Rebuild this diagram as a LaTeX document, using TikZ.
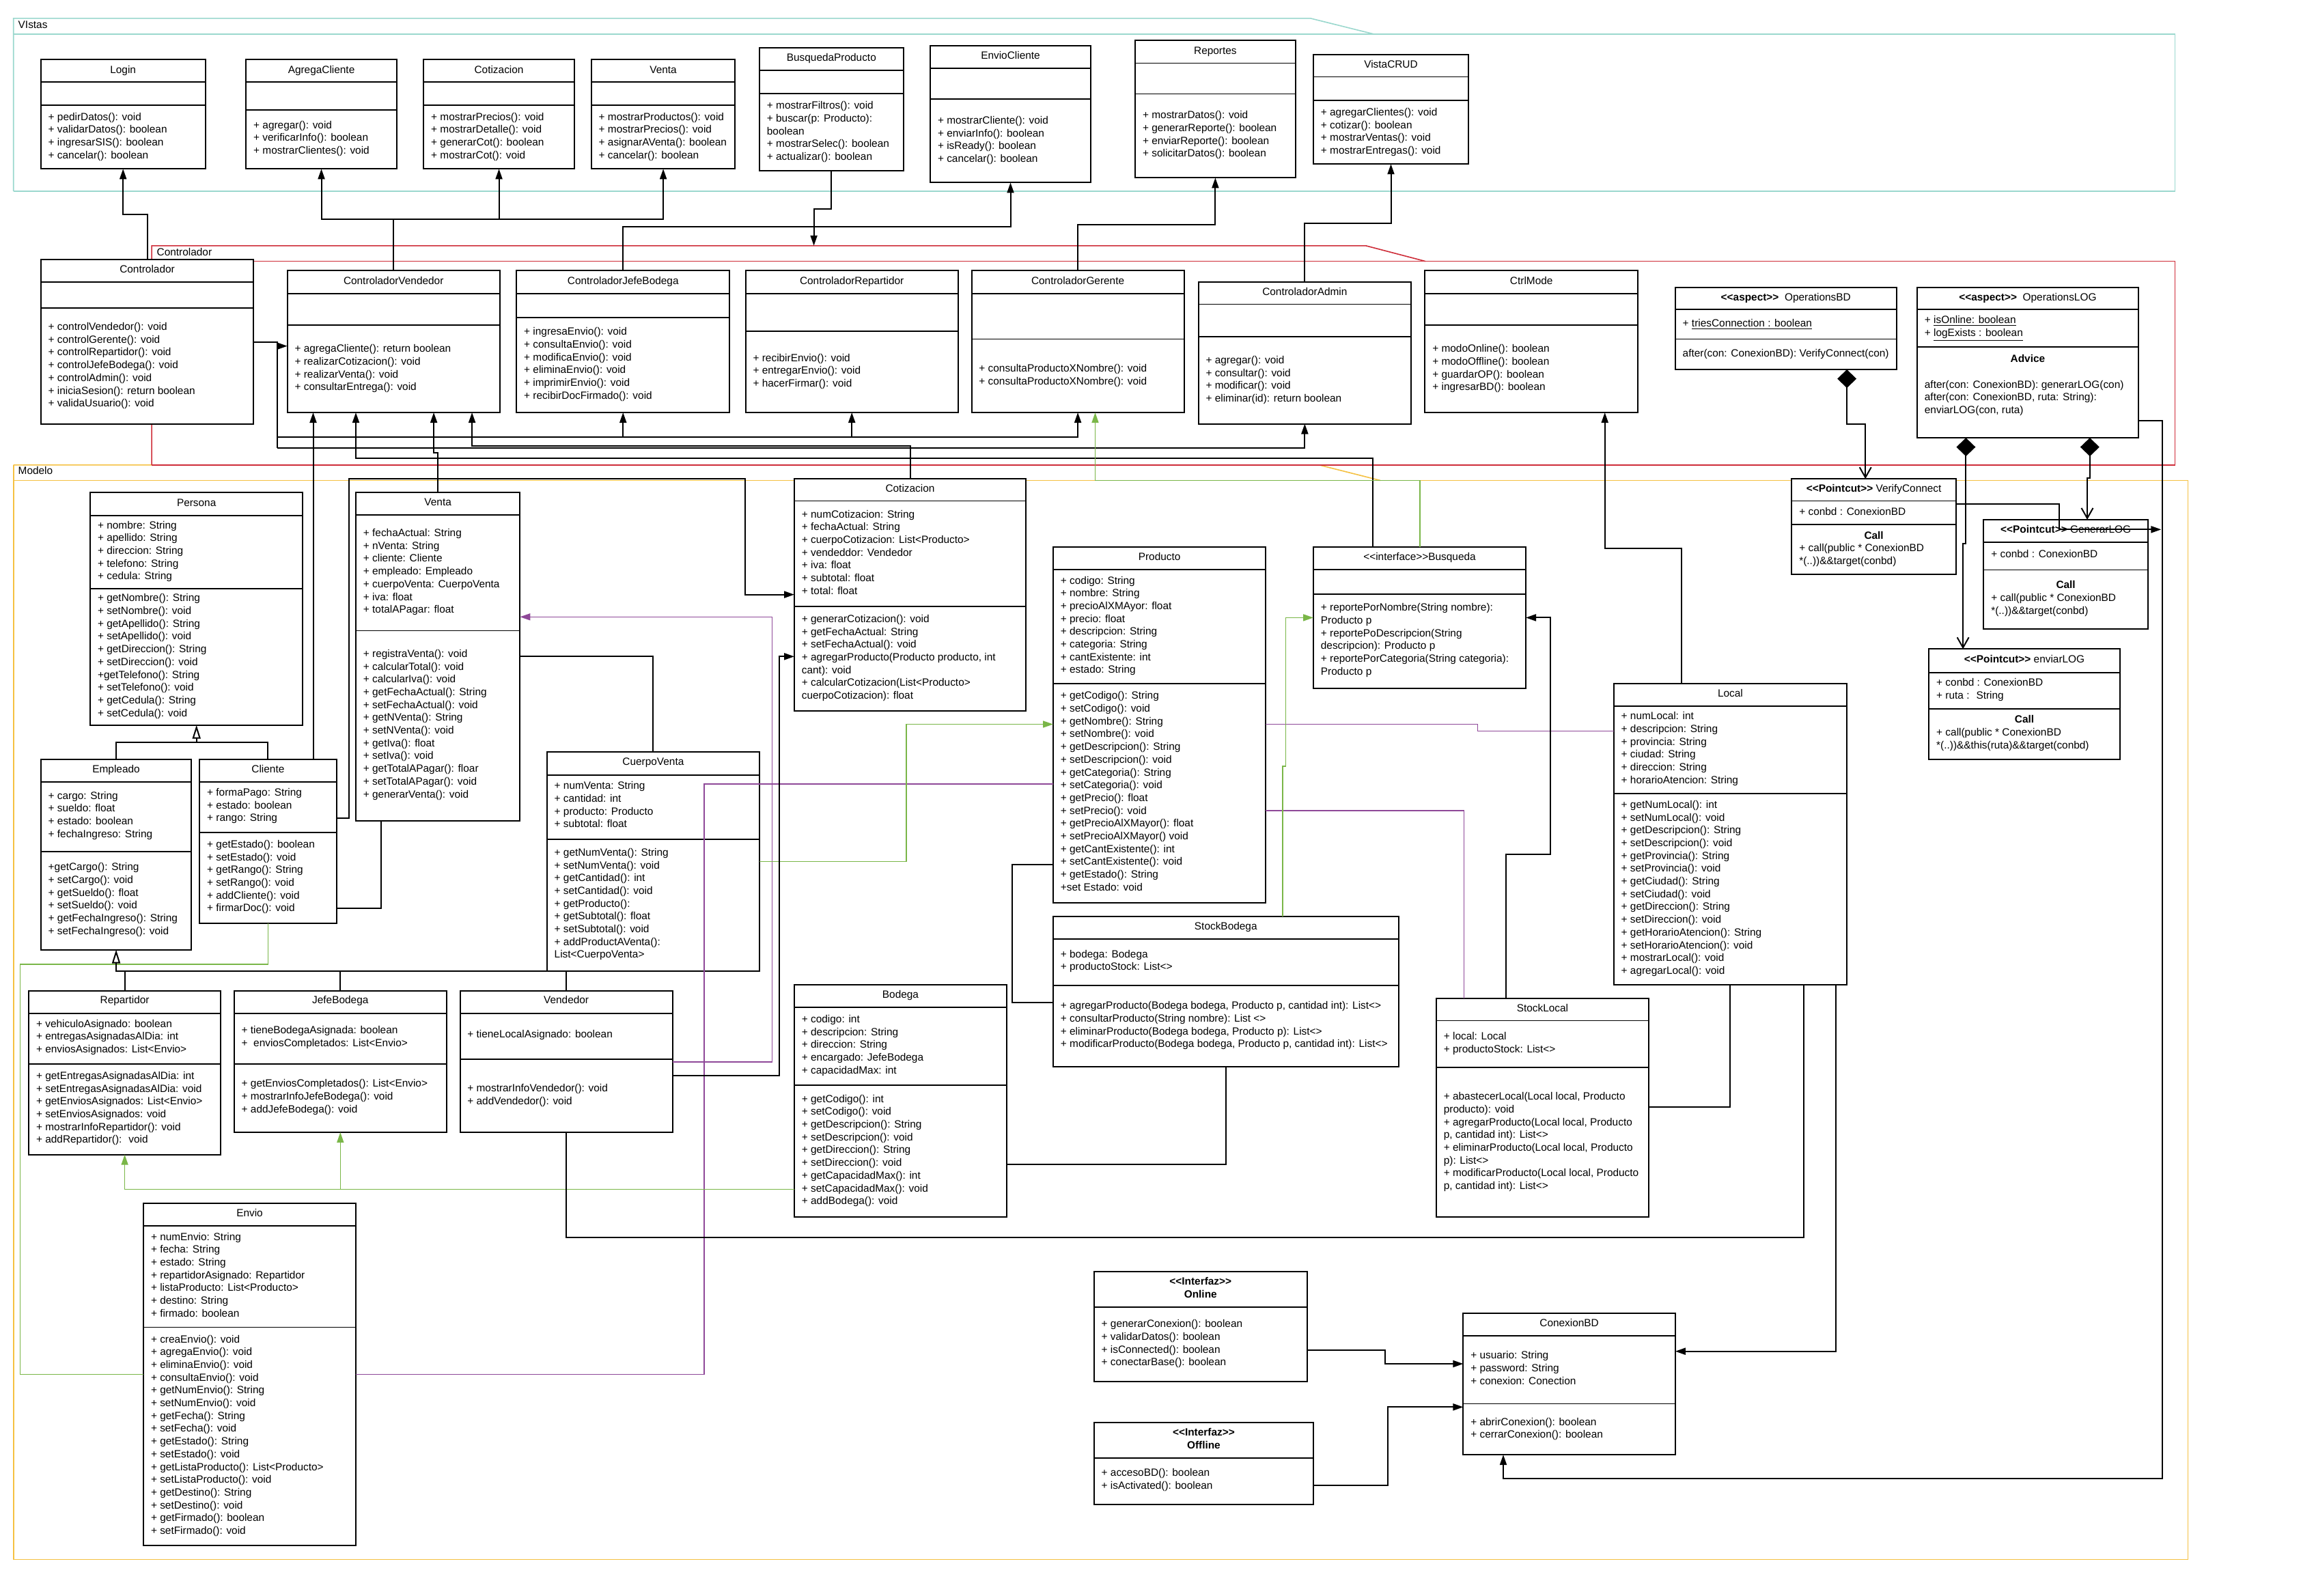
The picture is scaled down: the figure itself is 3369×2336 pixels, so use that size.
\documentclass[tikz,border=0pt]{standalone}
\usepackage{fontspec}
\setmainfont{Liberation Sans}
\usetikzlibrary{arrows.meta,fit}

\definecolor{pkgteal}{RGB}{155,216,206}
\definecolor{pkgred}{RGB}{206,44,56}
\definecolor{pkgorange}{RGB}{245,193,66}
\definecolor{lnkgreen}{RGB}{122,182,72}
\definecolor{lnkpurple}{RGB}{142,72,152}

\newcommand\stereo[1]{<\kern0pt<#1>\kern0pt>}

% class box: name, x1, y1, x2, y2, compartment separators
\newcommand\umlbox[6]{%
  \node[clsbox, fit={(#2,#3) (#4,#5)}] (#1) {};%
  \foreach \yy in {#6} {\draw[sepline] (#2,\yy) -- (#4,\yy);}%
}
% centred line(s): name, x1, x2, y of first line, text
\newcommand\umltitle[5]{%
  \node[ttl] (#1) at ({(#2+#3)/2},{#4-8.4}) {\strut #5};%
}
% left aligned lines: name, box left, y of first line, text
\newcommand\umltext[4]{%
  \node[txt] (#1) at ({#2+10.5},{#3-8.4}) {\strut #4};%
}

\tikzset{
  clsbox/.style={draw=black, line width=1pt, fill=white, inner sep=0pt, outer sep=0pt},
  sepline/.style={black, line width=0.9pt},
  txt/.style={font=\fontsize{7.7}{9.35}\selectfont, align=left, inner sep=0pt, anchor=north west},
  ttl/.style={font=\fontsize{7.7}{9.35}\selectfont, align=center, inner sep=0pt, anchor=north},
  lnk/.style={black, line width=1pt},
  arr/.style={lnk, -{Triangle[length=7.5pt,width=5pt]}},
  gen/.style={lnk, -{Triangle[open,length=10pt,width=6pt]}},
  aggr/.style={lnk, {Diamond[length=13.5pt,width=14pt]}-{Straight Barb[length=7.5pt,width=8.5pt]}},
  grn/.style={lnkgreen, line width=0.8pt},
  grnarr/.style={grn, -{Triangle[length=7.5pt,width=5pt]}},
  pur/.style={lnkpurple, line width=0.7pt},
  purarr/.style={pur, -{Triangle[length=7.5pt,width=5pt]}},
  pkg/.style={line width=0.8pt},
}

\begin{document}
\begin{tikzpicture}[x=0.5pt,y=-0.5pt]
\useasboundingbox (0,0) rectangle (3369,2336);
\fill[white] (0,0) rectangle (3369,2336);

% ================= packages
\draw[pkg, pkgorange] (19.7,680.8) -- (1931.2,680.8) -- (2021,703.5);
\draw[pkg, pkgorange] (19.7,680.8) -- (19.7,2283.5) -- (3203.3,2283.5) -- (3203.3,703.5) -- (19.7,703.5);
\node[txt] (lblModelo) at (26.3,{689.8-8.4}) {\strut Modelo};

\draw[pkg, pkgred] (222.1,680.8) -- (222.1,359.8) -- (1999.8,359.8) -- (2087,382.6);
\draw[pkg, pkgred] (222.1,382.6) -- (3184.4,382.6) -- (3184.4,680.8) -- (222.1,680.8);
\node[txt] (lblCtrl) at (229.3,{369.6-8.4}) {\strut Controlador};

\draw[pkg, pkgteal] (19.7,280) -- (19.7,26.8) -- (1918.6,26.8) -- (2011.8,50);
\draw[pkg, pkgteal] (19.7,50) -- (3184.4,50) -- (3184.4,280) -- (19.7,280);
\node[txt] (lblVistas) at (26.3,{36.6-8.4}) {\strut VIstas};

% ================= views
\umlbox{login}{59.8}{86.6}{300.6}{247.3}{119.6,154}
\umltitle{login-n}{59.8}{300.6}{102.5}{Login}
\umltext{login-m}{59.8}{171}{+ pedirDatos(): void\\+ validarDatos(): boolean\\+ ingresarSIS(): boolean\\+ cancelar(): boolean}

\umlbox{agregaCli}{360.3}{86.6}{580.8}{247.3}{119.6,160.7}
\umltitle{agregaCli-n}{360.3}{580.8}{102.5}{AgregaCliente}
\umltext{agregaCli-m}{360.3}{183}{+ agregar(): void\\+ verificarInfo(): boolean\\+ mostrarClientes(): void}

\umlbox{vCotiz}{620.3}{86.6}{840.8}{247.3}{119.6,154}
\umltitle{vCotiz-n}{620.3}{840.8}{102.5}{Cotizacion}
\umltext{vCotiz-m}{620.3}{171}{+ mostrarPrecios(): void\\+ mostrarDetalle(): void\\+ generarCot(): boolean\\+ mostrarCot(): void}

\umlbox{vVenta}{865.8}{86.6}{1076.4}{247.3}{119.6,154}
\umltitle{vVenta-n}{865.8}{1076.4}{102.5}{Venta}
\umltext{vVenta-m}{865.8}{171}{+ mostrarProductos(): void\\+ mostrarPrecios(): void\\+ asignarAVenta(): boolean\\+ cancelar(): boolean}

\umlbox{busqProd}{1112}{69.6}{1322.7}{250}{102.7,136.6}
\umltitle{busqProd-n}{1112}{1322.7}{84.4}{BusquedaProducto}
\umltext{busqProd-m}{1112}{154.5}{+ mostrarFiltros(): void\\+ buscar(p: Producto):\\boolean\\+ mostrarSelec(): boolean\\+ actualizar(): boolean}

\umlbox{envioCli}{1362.1}{67}{1596.9}{267.4}{99.6,145}
\umltitle{envioCli-n}{1362.1}{1596.9}{81.7}{EnvioCliente}
\umltext{envioCli-m}{1362.1}{176.3}{+ mostrarCliente(): void\\+ enviarInfo(): boolean\\+ isReady(): boolean\\+ cancelar(): boolean}

\umlbox{reportes}{1662.2}{59.4}{1896.6}{260.3}{92.4,137.5}
\umltitle{reportes-n}{1662.2}{1896.6}{74.6}{Reportes}
\umltext{reportes-m}{1662.2}{168.7}{+ mostrarDatos(): void\\+ generarReporte(): boolean\\+ enviarReporte(): boolean\\+ solicitarDatos(): boolean}

\umlbox{vistaCrud}{1923}{80}{2150}{240.2}{112.5,146.9}
\umltitle{vistaCrud-n}{1923}{2150}{94.2}{VistaCRUD}
\umltext{vistaCrud-m}{1923}{164.3}{+ agregarClientes(): void\\+ cotizar(): boolean\\+ mostrarVentas(): void\\+ mostrarEntregas(): void}

% ================= controllers
\umlbox{controlador}{59.8}{380.4}{371.3}{620.5}{413,450.9}
\umltitle{controlador-n}{59.8}{371.3}{394.6}{Controlador}
\umltext{controlador-m}{59.8}{478.4}{+ controlVendedor(): void\\+ controlGerente(): void\\+ controlRepartidor(): void\\+ controlJefeBodega(): void\\+ controlAdmin(): void\\+ iniciaSesion(): return boolean\\+ validaUsuario(): void}

\umlbox{ctrlVend}{420.7}{396.4}{731.7}{604}{429.9,476.3}
\umltitle{ctrlVend-n}{420.7}{731.7}{411.2}{ControladorVendedor}
\umltext{ctrlVend-m}{420.7}{510.7}{+ agregaCliente(): return boolean\\+ realizarCotizacion(): void\\+ realizarVenta(): void\\+ consultarEntrega(): void}

\umlbox{ctrlJefe}{756.3}{396.4}{1068.2}{604}{429.9,464.7}
\umltitle{ctrlJefe-n}{756.3}{1068.2}{411.2}{ControladorJefeBodega}
\umltext{ctrlJefe-m}{756.3}{485.7}{+ ingresaEnvio(): void\\+ consultaEnvio(): void\\+ modificaEnvio(): void\\+ eliminaEnvio(): void\\+ imprimirEnvio(): void\\+ recibirDocFirmado(): void}

\umlbox{ctrlRep}{1091.7}{396.4}{1402.7}{604}{429.9,484.8}
\umltitle{ctrlRep-n}{1091.7}{1402.7}{411.2}{ControladorRepartidor}
\umltext{ctrlRep-m}{1091.7}{524.1}{+ recibirEnvio(): void\\+ entregarEnvio(): void\\+ hacerFirmar(): void}

\umlbox{ctrlGer}{1422.5}{396.4}{1733.7}{604}{429.9,496.4}
\umltitle{ctrlGer-n}{1422.5}{1733.7}{411.2}{ControladorGerente}
\umltext{ctrlGer-m}{1422.5}{539.7}{+ consultaProductoXNombre(): void\\+ consultaProductoXNombre(): void}

\umlbox{ctrlAdmin}{1754.6}{413.4}{2066.1}{620.5}{445.5,492.9}
\umltitle{ctrlAdmin-n}{1754.6}{2066.1}{427.7}{ControladorAdmin}
\umltext{ctrlAdmin-m}{1754.6}{527.2}{+ agregar(): void\\+ consultar(): void\\+ modificar(): void\\+ eliminar(id): return boolean}

\umlbox{ctrlMode}{2086.4}{396.4}{2398}{604}{429.9,476.3}
\umltitle{ctrlMode-n}{2086.4}{2398}{411.2}{CtrlMode}
\umltext{ctrlMode-m}{2086.4}{510.7}{+ modoOnline(): boolean\\+ modoOffline(): boolean\\+ guardarOP(): boolean\\+ ingresarBD(): boolean}

\umlbox{opBD}{2452.8}{420.5}{2776.6}{541.1}{452.7,496.4}
\umltitle{opBD-n}{2452.8}{2776.6}{435.3}{\textbf{\stereo{aspect}}~ OperationsBD}
\umltext{opBD-a}{2452.8}{473.2}{+ \underline{triesConnection : boolean}}
\umltext{opBD-m}{2452.8}{517}{after(con: ConexionBD): VerifyConnect(con)}

\umlbox{opLOG}{2807}{420.5}{3130.8}{641.1}{452.7,507.6}
\umltitle{opLOG-n}{2807}{3130.8}{435.3}{\textbf{\stereo{aspect}}~ OperationsLOG}
\umltext{opLOG-a}{2807}{468.8}{+ \underline{isOnline: boolean}\\+ \underline{logExists : boolean}}
\umltitle{opLOG-adv}{2807}{3130.8}{525.4}{\textbf{Advice}}
\umltext{opLOG-m}{2807}{563}{after(con: ConexionBD): generarLOG(con)\\after(con: ConexionBD, ruta: String):\\enviarLOG(con, ruta)}

% ================= model
\umlbox{persona}{132.2}{721.3}{443.2}{1061.7}{754.6,862}
\umltitle{persona-n}{132.2}{443.2}{736.3}{Persona}
\umltext{persona-a}{132.2}{769}{+ nombre: String\\+ apellido: String\\+ direccion: String\\+ telefono: String\\+ cedula: String}
\umltext{persona-m}{132.2}{875.7}{+ getNombre(): String\\+ setNombre(): void\\+ getApellido(): String\\+ setApellido(): void\\+ getDireccion(): String\\+ setDireccion(): void\\+getTelefono(): String\\+ setTelefono(): void\\+ getCedula(): String\\+ setCedula(): void}

\umlbox{empleado}{59.8}{1111.6}{280.3}{1390.6}{1144.9,1247.1}
\umltitle{empleado-n}{59.8}{280.3}{1126}{Empleado}
\umltext{empleado-a}{59.8}{1165}{+ cargo: String\\+ sueldo: float\\+ estado: boolean\\+ fechaIngreso: String}
\umltext{empleado-m}{59.8}{1269.5}{+getCargo(): String\\+ setCargo(): void\\+ getSueldo(): float\\+ setSueldo(): void\\+ getFechaIngreso(): String\\+ setFechaIngreso(): void}

\umlbox{cliente}{292.3}{1111.6}{492.5}{1351.6}{1144.9,1219}
\umltitle{cliente-n}{292.3}{492.5}{1126}{Cliente}
\umltext{cliente-a}{292.3}{1160.4}{+ formaPago: String\\+ estado: boolean\\+ rango: String}
\umltext{cliente-m}{292.3}{1236.2}{+ getEstado(): boolean\\+ setEstado(): void\\+ getRango(): String\\+ setRango(): void\\+ addCliente(): void\\+ firmarDoc(): void}

\umlbox{venta}{521}{721.3}{761.3}{1202.3}{754,923.4}
\umltitle{venta-n}{521}{761.3}{735.1}{Venta}
\umltext{venta-a}{521}{780.4}{+ fechaActual: String\\+ nVenta: String\\+ cliente: Cliente\\+ empleado: Empleado\\+ cuerpoVenta: CuerpoVenta\\+ iva: float\\+ totalAPagar: float}
\umltext{venta-m}{521}{957.2}{+ registraVenta(): void\\+ calcularTotal(): void\\+ calcularIva(): void\\+ getFechaActual(): String\\+ setFechaActual(): void\\+ getNVenta(): String\\+ setNVenta(): void\\+ getIva(): float\\+ setIva(): void\\+ getTotalAPagar(): floar\\+ setTotalAPagar(): void\\+ generarVenta(): void}

\umlbox{cuerpoVenta}{800.8}{1101.3}{1112}{1421.6}{1134.6,1228.7}
\umltitle{cuerpoVenta-n}{800.8}{1112}{1115.7}{CuerpoVenta}
\umltext{cuerpoVenta-a}{800.8}{1150.7}{+ numVenta: String\\+ cantidad: int\\+ producto: Producto\\+ subtotal: float}
\umltext{cuerpoVenta-m}{800.8}{1248.2}{+ getNumVenta(): String\\+ setNumVenta(): void\\+ getCantidad(): int\\+ setCantidad(): void\\+ getProducto():\\+ getSubtotal(): float\\+ setSubtotal(): void\\+ addProductAVenta():\\List<CuerpoVenta>}

\umlbox{cotiz}{1163}{700.7}{1502}{1040.5}{733.4,887.8}
\umltitle{cotiz-n}{1163}{1502}{715}{Cotizacion}
\umltext{cotiz-a}{1163}{752.9}{+ numCotizacion: String\\+ fechaActual: String\\+ cuerpoCotizacion: List<Producto>\\+ vendeddor: Vendedor\\+ iva: float\\+ subtotal: float\\+ total: float}
\umltext{cotiz-m}{1163}{906.2}{+ generarCotizacion(): void\\+ getFechaActual: String\\+ setFechaActual(): void\\+ agregarProducto(Producto producto, int\\cant): void\\+ calcularCotizacion(List<Producto>\\cuerpoCotizacion): float}

\umlbox{producto}{1542}{801.1}{1853.3}{1321.7}{833.8,1000.9}
\umltitle{producto-n}{1542}{1853.3}{815.5}{Producto}
\umltext{producto-a}{1542}{849.9}{+ codigo: String\\+ nombre: String\\+ precioAlXMAyor: float\\+ precio: float\\+ descripcion: String\\+ categoria: String\\+ cantExistente: int\\+ estado: String}
\umltext{producto-m}{1542}{1018.7}{+ getCodigo(): String\\+ setCodigo(): void\\+ getNombre(): String\\+ setNombre(): void\\+ getDescripcion(): String\\+ setDescripcion(): void\\+ getCategoria(): String\\+ setCategoria(): void\\+ getPrecio(): float\\+ setPrecio(): void\\+ getPrecioAlXMayor(): float\\+ setPrecioAlXMayor() void\\+ getCantExistente(): int\\+ setCantExistente(): void\\+ getEstado(): String\\+set Estado: void}

\umlbox{busqueda}{1923}{801.1}{2234}{1007.7}{833.8,870}
\umltitle{busqueda-n}{1923}{2234}{815.5}{\stereo{interface}Busqueda}
\umltext{busqueda-m}{1923}{889.5}{+ reportePorNombre(String nombre):\\Producto p\\+ reportePoDescripcion(String\\descripcion): Producto p\\+ reportePorCategoria(String categoria):\\Producto p}

\umlbox{local}{2362.8}{1001.4}{2704.1}{1441.7}{1033.6,1162.1}
\umltitle{local-n}{2362.8}{2704.1}{1015.8}{Local}
\umltext{local-a}{2362.8}{1048.5}{+ numLocal: int\\+ descripcion: String\\+ provincia: String\\+ ciudad: String\\+ direccion: String\\+ horarioAtencion: String}
\umltext{local-m}{2362.8}{1178.2}{+ getNumLocal(): int\\+ setNumLocal(): void\\+ getDescripcion(): String\\+ setDescripcion(): void\\+ getProvincia(): String\\+ setProvincia(): void\\+ getCiudad(): String\\+ setCiudad(): void\\+ getDireccion(): String\\+ setDireccion(): void\\+ getHorarioAtencion(): String\\+ setHorarioAtencion(): void\\+ mostrarLocal(): void\\+ agregarLocal(): void}

\umlbox{stockBod}{1542}{1341.8}{2047.5}{1561.6}{1375.1,1442.8}
\umltitle{stockBod-n}{1542}{2047.5}{1356.2}{StockBodega}
\umltext{stockBod-a}{1542}{1397}{+ bodega: Bodega\\+ productoStock: List<>}
\umltext{stockBod-m}{1542}{1472.7}{+ agregarProducto(Bodega bodega, Producto p, cantidad int): List<>\\+ consultarProducto(String nombre): List <>\\+ eliminarProducto(Bodega bodega, Producto p): List<>\\+ modificarProducto(Bodega bodega, Producto p, cantidad int): List<>}

\umlbox{stockLoc}{2102.9}{1461.8}{2413.9}{1781.7}{1494.5,1562.8}
\umltitle{stockLoc-n}{2102.9}{2413.9}{1476.1}{StockLocal}
\umltext{stockLoc-a}{2102.9}{1517.4}{+ local: Local\\+ productoStock: List<>}
\umltext{stockLoc-m}{2102.9}{1605.5}{+ abastecerLocal(Local local, Producto\\producto): void\\+ agregarProducto(Local local, Producto\\p, cantidad int): List<>\\+ eliminarProducto(Local local, Producto\\p): List<>\\+ modificarProducto(Local local, Producto\\p, cantidad int): List<>}

\umlbox{bodega}{1163}{1442.2}{1474}{1781.7}{1475,1589.2}
\umltitle{bodega-n}{1163}{1474}{1456.1}{Bodega}
\umltext{bodega-a}{1163}{1492.2}{+ codigo: int\\+ descripcion: String\\+ direccion: String\\+ encargado: JefeBodega\\+ capacidadMax: int}
\umltext{bodega-m}{1163}{1609}{+ getCodigo(): int\\+ setCodigo(): void\\+ getDescripcion(): String\\+ setDescripcion(): void\\+ getDireccion(): String\\+ setDireccion(): void\\+ getCapacidadMax(): int\\+ setCapacidadMax(): void\\+ addBodega(): void}

\umlbox{repartidor}{42.2}{1451.4}{323}{1690.7}{1483.6,1558.2}
\umltitle{repartidor-n}{42.2}{323}{1464.7}{Repartidor}
\umltext{repartidor-a}{42.2}{1499}{+ vehiculoAsignado: boolean\\+ entregasAsignadasAlDia: int\\+ enviosAsignados: List<Envio>}
\umltext{repartidor-m}{42.2}{1575.3}{+ getEntregasAsignadasAlDia: int\\+ setEntregasAsignadasAlDia: void\\+ getEnviosAsignados: List<Envio>\\+ setEnviosAsignados: void\\+ mostrarInfoRepartidor(): void\\+ addRepartidor():~ void}

\umlbox{jefeBod}{342.8}{1451.4}{653.8}{1658}{1483.6,1558.2}
\umltitle{jefeBod-n}{342.8}{653.8}{1464.7}{JefeBodega}
\umltext{jefeBod-a}{342.8}{1508.3}{+ tieneBodegaAsignada: boolean\\+~ enviosCompletados: List<Envio>}
\umltext{jefeBod-m}{342.8}{1586.7}{+ getEnviosCompletados(): List<Envio>\\+ mostrarInfoJefeBodega(): void\\+ addJefeBodega(): void}

\umlbox{vendedor}{673.5}{1451.4}{984.8}{1658}{1483.6,1551.3}
\umltitle{vendedor-n}{673.5}{984.8}{1464.7}{Vendedor}
\umltext{vendedor-a}{673.5}{1514.6}{+ tieneLocalAsignado: boolean}
\umltext{vendedor-m}{673.5}{1593.2}{+ mostrarInfoVendedor(): void\\+ addVendedor(): void}

\umlbox{envio}{210.1}{1761.9}{521}{2262.8}{1794.6,1943.5}
\umltitle{envio-n}{210.1}{521}{1776.3}{Envio}
\umltext{envio-a}{210.1}{1810.9}{+ numEnvio: String\\+ fecha: String\\+ estado: String\\+ repartidorAsignado: Repartidor\\+ listaProducto: List<Producto>\\+ destino: String\\+ firmado: boolean}
\umltext{envio-m}{210.1}{1960.9}{+ creaEnvio(): void\\+ agregaEnvio(): void\\+ eliminaEnvio(): void\\+ consultaEnvio(): void\\+ getNumEnvio(): String\\+ setNumEnvio(): void\\+ getFecha(): String\\+ setFecha(): void\\+ getEstado(): String\\+ setEstado(): void\\+ getListaProducto(): List<Producto>\\+ setListaProducto(): void\\+ getDestino(): String\\+ setDestino(): void\\+ getFirmado(): boolean\\+ setFirmado(): void}

\umlbox{online}{1601.8}{1862.4}{1913.7}{2022.7}{1914.3}
\umltitle{online-n}{1601.8}{1913.7}{1876.7}{\textbf{\stereo{Interfaz}}\\\textbf{Online}}
\umltext{online-m}{1601.8}{1938.6}{+ generarConexion(): boolean\\+ validarDatos(): boolean\\+ isConnected(): boolean\\+ conectarBase(): boolean}

\umlbox{offline}{1601.8}{2082.6}{1923}{2202.9}{2135.1}
\umltitle{offline-n}{1601.8}{1923}{2097.5}{\textbf{\stereo{Interfaz}}\\\textbf{Offline}}
\umltext{offline-m}{1601.8}{2156.8}{+ accesoBD(): boolean\\+ isActivated(): boolean}

\umlbox{conexion}{2142.4}{1922.8}{2452.8}{2130.1}{1955.9,2055.4}
\umltitle{conexion-n}{2142.4}{2452.8}{1937.6}{ConexionBD}
\umltext{conexion-a}{2142.4}{1984.6}{+ usuario: String\\+ password: String\\+ conexion: Conection}
\umltext{conexion-m}{2142.4}{2082.1}{+ abrirConexion(): boolean\\+ cerrarConexion(): boolean}

\umlbox{verify}{2623.4}{701.2}{2863.8}{840.7}{733.4,767.8}
\umltitle{verify-n}{2623.4}{2863.8}{715.6}{\textbf{\stereo{Pointcut}} VerifyConnect}
\umltext{verify-a}{2623.4}{748.9}{+ conbd : ConexionBD}
\umltitle{verify-c}{2623.4}{2863.8}{783.9}{\textbf{Call}}
\umltext{verify-m}{2623.4}{802.8}{+ call(public * ConexionBD\\*(..))\&\&target(conbd)}

\umlbox{genLog}{2904.4}{760.9}{3144.8}{920.5}{793.6,834.4}
\umltitle{genLog-n}{2904.4}{3144.8}{775.3}{\textbf{\stereo{Pointcut}} GenerarLOG}
\umltext{genLog-a}{2904.4}{811.4}{+ conbd : ConexionBD}
\umltitle{genLog-c}{2904.4}{3144.8}{856.8}{\textbf{Call}}
\umltext{genLog-m}{2904.4}{875.7}{+ call(public * ConexionBD\\*(..))\&\&target(conbd)}

\umlbox{envLog}{2824.3}{950.3}{3103.7}{1111.6}{984.8,1038.2}
\umltitle{envLog-n}{2824.3}{3103.7}{965.3}{\textbf{\stereo{Pointcut}} enviarLOG}
\umltext{envLog-a}{2824.3}{999.7}{+ conbd : ConexionBD\\+ ruta :~ String}
\umltitle{envLog-c}{2824.3}{3103.7}{1053.7}{\textbf{Call}}
\umltext{envLog-m}{2824.3}{1072.6}{+ call(public * ConexionBD\\*(..))\&\&this(ruta)\&\&target(conbd)}

% ================= connectors: controllers to views
\draw[arr] (216.1,0 |- controlador.north) -- (216.1,313.8) -| (login.south);
\coordinate (jv) at (576.2,321.4);
\draw[lnk] (ctrlVend.north) -- (jv);
\draw[arr] (jv) -| (agregaCli.south);
\draw[arr] (jv) -| (vCotiz.south);
\draw[arr] (jv) -| (vVenta.south);
\draw[arr] (ctrlJefe.north) -- (ctrlJefe.north |- 0,331.7) -| (envioCli.south);
\coordinate (pkgCtrlTop) at (1191.6,359.8);
\draw[arr] (busqProd.south) -- (busqProd.south |- 0,305.8) -| (pkgCtrlTop);
\draw[arr] (ctrlGer.north) -- (ctrlGer.north |- 0,329) -| (reportes.south);
\draw[arr] (ctrlAdmin.north) -- (ctrlAdmin.north |- 0,326.8) -| (vistaCrud.south);

% Controlador to the other controllers
\coordinate (busTop) at (406.4,500.9);
\coordinate (busA) at (406.4,639.7);
\coordinate (busB) at (406.4,656.2);
\draw[arr] (controlador.east |- busTop) -- (busTop) |- (ctrlVend.west |- 0,506.7);
\draw[lnk] (busTop) -- (busB);
\draw[arr] (busA) -| (ctrlJefe.south);
\draw[arr] (busA) -| (ctrlRep.south);
\draw[arr] (busA) -| (ctrlGer.south);
\draw[arr] (busB) -| (ctrlAdmin.south);

% model classes to controllers
\draw[arr] (cotiz.north) -- (cotiz.north |- 0,652.7) -| (691.1,0 |- ctrlVend.south);
\draw[arr] (2010.2,0 |- busqueda.north) -- (2010.2,670.5) -| (521,0 |- ctrlVend.south);
\draw[arr] (458.5,0 |- cliente.north) -- (458.5,0 |- ctrlVend.south);
\draw[arr] (venta.north) -- (venta.north |- 0,663) -- (635.1,663) -- (635.1,0 |- ctrlVend.south);
\draw[grnarr] (2078.7,0 |- busqueda.north) -- (2078.7,703.5) -| (1603.5,0 |- ctrlGer.south);
\draw[arr] (2461.6,0 |- local.north) -- (2461.6,802.8) -| (2349.7,0 |- ctrlMode.south);

% ================= connectors inside the model
\draw[arr] (cliente.east |- 0,1198.3) -- (510.6,1198.3) -- (510.6,701.2) -- (1090.6,701.2) |- (cotiz.west |- 0,870.6);
\draw[lnk] (557.8,0 |- venta.south) |- (cliente.east |- 0,1329.7);
\draw[lnk] (venta.east |- 0,961.3) -| (cuerpoVenta.north);
\draw[purarr] (vendedor.east |- 0,1554.8) -- (1130.7,1554.8) |- (venta.east |- 0,903.3);
\draw[pur] (envio.east |- 0,2012.3) -- (1030.9,2012.3) |- (producto.west |- 0,1147.8);
\draw[pur] (producto.east |- 0,1060.5) -- (2163.2,1060.5) -- (2163.2,1070.3) -- (local.west |- 0,1070.3);
\draw[pur] (producto.east |- 0,1186.8) -| (2143.5,0 |- stockLoc.north);
\draw[grnarr] (cuerpoVenta.east |- 0,1261.4) -- (1327,1261.4) |- (producto.west |- 0,1060.5);
\draw[grnarr] (1878,0 |- stockBod.north) -- (1878,1122) -- (1882.4,1122) |- (busqueda.west |- 0,904.4);
\draw[grn] (envio.west |- 0,2012.3) -- (29.6,2012.3) -- (29.6,1411.8) -| (cliente.south);
\draw[grnarr] (bodega.west |- 0,1741.6) -| (repartidor.south);
\draw[grnarr] (bodega.west |- 0,1741.6) -| (jefeBod.south);

% inheritance
\draw[gen] (empleado.north) |- (persona.south |- 0,1087) -- (persona.south);
\draw[lnk] (cliente.north) |- (persona.south |- 0,1087);
\draw[gen] (repartidor.north) |- (empleado.south |- 0,1422.2) -- (empleado.south);
\draw[lnk] (jefeBod.north) |- (empleado.south |- 0,1422.2);
\draw[lnk] (vendedor.north) |- (empleado.south |- 0,1422.2);

\draw[arr] (vendedor.east |- 0,1575.4) -- (1141.1,1575.4) |- (cotiz.west |- 0,961.3);
\draw[lnk] (producto.west |- 0,1265.5) -- (1481.7,1265.5) |- (stockBod.west |- 0,1467.5);
\draw[lnk] (bodega.east |- 0,1704.5) -| (stockBod.south);
\draw[arr] (2204.9,0 |- stockLoc.north) -- (2204.9,1250.5) -- (2270.2,1250.5) |- (busqueda.east |- 0,904.4);
\draw[lnk] (vendedor.south) -- (vendedor.south |- 0,1812) -| (2641.3,0 |- local.south);
\draw[lnk] (stockLoc.east |- 0,1621.4) -| (local.south);
\draw[arr] (2687.8,0 |- local.south) |- (conexion.east |- 0,1978.7);
\draw[arr] (opLOG.east |- 0,616) -- (3166,616) -- (3166,2165.3) -| (2201,0 |- conexion.south);
\draw[arr] (online.east |- 0,1976.7) -- (2027.7,1976.7) |- (conexion.west |- 0,1997);
\draw[arr] (offline.east |- 0,2175.2) -- (2031.6,2175.2) |- (conexion.west |- 0,2060.3);

% aspects and pointcuts
\draw[aggr] (2704.1,0 |- opBD.south) -- (2704.1,620.5) -| (2731.2,0 |- verify.north);
\draw[aggr] (2878.4,0 |- opLOG.south) -- (2878.4,796) -- (2874.1,796) -- (2874.1,0 |- envLog.north);
\draw[aggr] (3059.8,0 |- opLOG.south) -- (3059.8,700) -- (3056,700) -- (3056,0 |- genLog.north);
\coordinate (vcEnd) at (3164.3,775.3);
\draw[arr] (verify.east |- 0,738) -- (3014.9,738) -- (3014.9,775.3) -- (vcEnd);

\end{tikzpicture}
\end{document}
